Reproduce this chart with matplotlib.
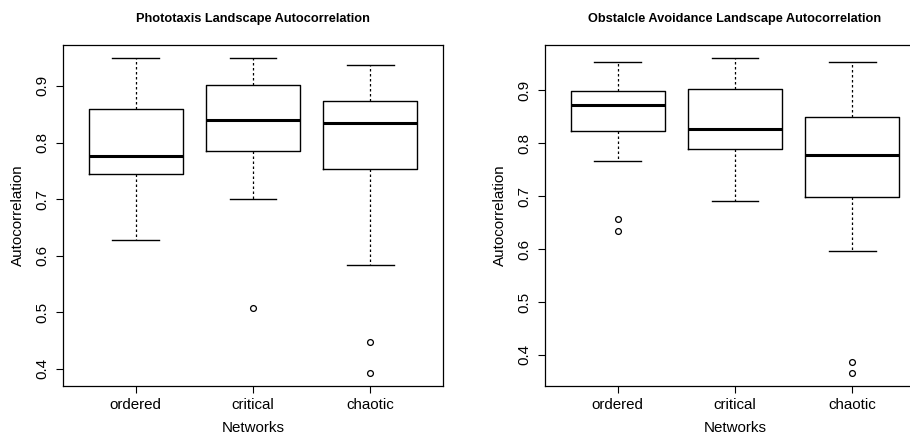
import matplotlib
matplotlib.use("Agg")
import matplotlib.pyplot as plt

plt.rcParams['font.family'] = ['Liberation Sans', 'DejaVu Sans']

networks = ["ordered", "critical", "chaotic"]

# Phototaxis: five-number summaries and outliers per network type
photo_whislo = [0.627, 0.700, 0.584]
photo_q1     = [0.744, 0.785, 0.754]
photo_med    = [0.777, 0.840, 0.835]
photo_q3     = [0.859, 0.901, 0.874]
photo_whishi = [0.950, 0.949, 0.937]
photo_fliers = [[], [0.508], [0.447, 0.392]]

# Obstacle avoidance: five-number summaries and outliers per network type
obst_whislo = [0.766, 0.690, 0.596]
obst_q1     = [0.823, 0.790, 0.699]
obst_med    = [0.872, 0.827, 0.778]
obst_q3     = [0.899, 0.902, 0.849]
obst_whishi = [0.954, 0.962, 0.953]
obst_fliers = [[0.656, 0.634], [], [0.387, 0.365]]

titles = ["Phototaxis Landscape Autocorrelation",
          "Obstalcle Avoidance Landscape Autocorrelation"]


def build_stats(lo, q1, med, q3, hi, fl):
    return [dict(whislo=a, q1=b, med=c, q3=d, whishi=e, fliers=f, label=n)
            for a, b, c, d, e, f, n in zip(lo, q1, med, q3, hi, fl, networks)]


def r_boxplot(ax, stats, title):
    ax.bxp(stats, positions=[1, 2, 3], widths=0.8, showfliers=True,
           boxprops=dict(color="black", linewidth=1.0),
           medianprops=dict(color="black", linewidth=2.2, solid_capstyle="butt"),
           whiskerprops=dict(color="black", linewidth=0.9, linestyle=(0, (2, 2))),
           capprops=dict(color="black", linewidth=1.0),
           capwidths=0.4,
           flierprops=dict(marker="o", markerfacecolor="none",
                           markeredgecolor="black", markersize=4.2,
                           markeredgewidth=0.9))
    vals = [v for s in stats for v in (s["whislo"], s["whishi"], *s["fliers"])]
    lo, hi = min(vals), max(vals)
    pad = 0.04 * (hi - lo)
    ax.set_ylim(lo - pad, hi + pad)
    ax.set_xlim(0.38, 3.62)
    ax.set_xticks([1, 2, 3])
    ax.set_xticklabels(networks)
    ax.set_yticks([0.4, 0.5, 0.6, 0.7, 0.8, 0.9])
    ax.set_yticklabels(["0.4", "0.5", "0.6", "0.7", "0.8", "0.9"],
                       rotation=90, va="center")
    ax.tick_params(axis="both", direction="out", length=5, width=0.8,
                   labelsize=10.9)
    ax.tick_params(axis="x", pad=3.5)
    ax.tick_params(axis="y", pad=5)
    for sp in ax.spines.values():
        sp.set_linewidth(0.9)
    ax.set_xlabel("Networks", fontsize=10.9, labelpad=6.5)
    ax.set_ylabel("Autocorrelation", fontsize=10.9, labelpad=7)
    ax.set_title(title, fontsize=9.2, fontweight="bold", pad=16.5)


fig = plt.figure(figsize=(9.1, 4.38), dpi=100)
ax1 = fig.add_axes([63 / 910, 1 - 386 / 438, 380 / 910, 341 / 438])
ax2 = fig.add_axes([545 / 910, 1 - 386 / 438, 380 / 910, 341 / 438])

r_boxplot(ax1, build_stats(photo_whislo, photo_q1, photo_med, photo_q3,
                           photo_whishi, photo_fliers), titles[0])
r_boxplot(ax2, build_stats(obst_whislo, obst_q1, obst_med, obst_q3,
                           obst_whishi, obst_fliers), titles[1])

fig.savefig("out.png", dpi=100)
